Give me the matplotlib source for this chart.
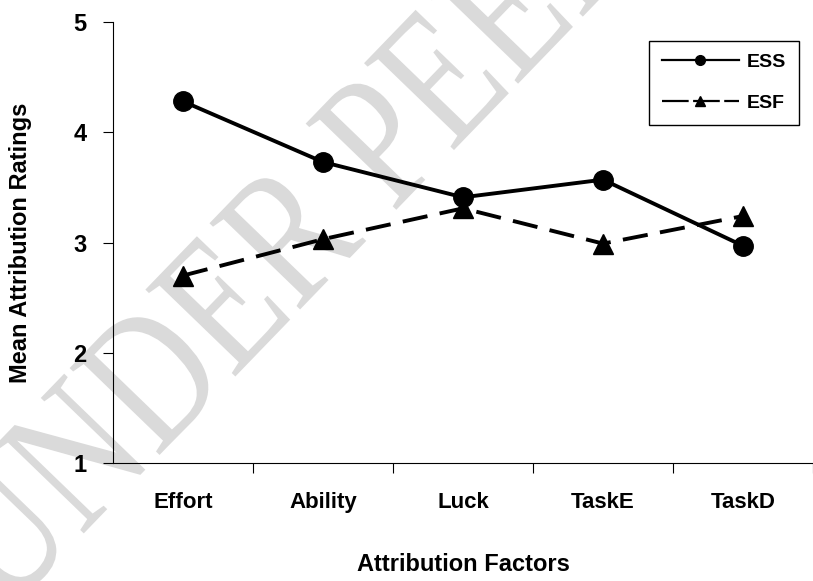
import matplotlib.pyplot as plt
from matplotlib.lines import Line2D
from matplotlib.patheffects import AbstractPathEffect
from matplotlib.transforms import Affine2D

factors = ['Effort', 'Ability', 'Luck', 'TaskE', 'TaskD']
ess = [4.28, 3.73, 3.41, 3.57, 2.97]
esf = [2.70, 3.03, 3.31, 2.99, 3.24]


class Stretch(AbstractPathEffect):
    # squeeze the glyphs along the baseline and stretch them upward
    def __init__(self, sx, sy):
        super().__init__()
        self.sx, self.sy = sx, sy

    def draw_path(self, renderer, gc, tpath, affine, rgbFace=None):
        renderer.draw_path(gc, tpath, Affine2D().scale(self.sx, self.sy) + affine, rgbFace)


plt.rcParams['font.family'] = ['Liberation Sans', 'DejaVu Sans']
plt.rcParams['font.weight'] = 'bold'

fig = plt.figure(figsize=(8.13, 5.81), dpi=100)
ax = fig.add_axes([113 / 813, 1 - 463 / 581, 700 / 813, 441 / 581])
ax.set_zorder(1)

# watermark
fig.text(5 / 813, 1 - 615 / 581, 'UNDER PEER REVIEW', fontsize=125, family='Liberation Serif',
         weight='normal', color='#dadada', rotation=46, rotation_mode='anchor',
         ha='left', va='baseline', zorder=0, path_effects=[Stretch(0.87, 1.1)])

x = range(len(factors))
ax.plot(x, ess, color='black', lw=2.8, marker='o', ms=14, zorder=3)
ax.plot(x, esf, color='black', lw=2.8, marker='^', ms=15, dashes=(6.5, 3.2), zorder=3)

ax.set_xlim(-0.5, 4.5)
ax.set_ylim(1, 5)
ax.set_yticks([1, 2, 3, 4, 5])
ax.set_yticklabels(['1', '2', '3', '4', '5'], fontsize=17)
ax.set_xticks([0.5, 1.5, 2.5, 3.5, 4.5])
ax.set_xticklabels([])
ax.set_xticks(list(x), minor=True)
ax.set_xticklabels(factors, minor=True, fontsize=16)
ax.tick_params(axis='x', which='minor', length=0, pad=21)
ax.tick_params(axis='x', which='major', length=7, direction='out')
ax.tick_params(axis='y', length=7, direction='out', pad=12)
ax.spines['top'].set_visible(False)
ax.spines['right'].set_visible(False)
ax.patch.set_alpha(0)

ax.set_xlabel('Attribution Factors', fontsize=17, weight='bold', labelpad=29)
ax.set_ylabel('Mean Attribution Ratings', fontsize=17, weight='bold', labelpad=30)

handles = [
    Line2D([], [], color='black', lw=1.6, marker='o', ms=7),
    Line2D([], [], color='black', lw=1.6, marker='^', ms=7, dashes=(12, 2)),
]
leg = ax.legend(handles, ['ESS', 'ESF'], loc='upper right', bbox_to_anchor=(0.98, 0.957),
                borderaxespad=0, fancybox=False, edgecolor='black', framealpha=1,
                fontsize=14, handlelength=4.0, handletextpad=0.4, labelspacing=1.2,
                borderpad=0.65)
leg.get_frame().set_linewidth(1)

fig.savefig('out.png', dpi=100)
